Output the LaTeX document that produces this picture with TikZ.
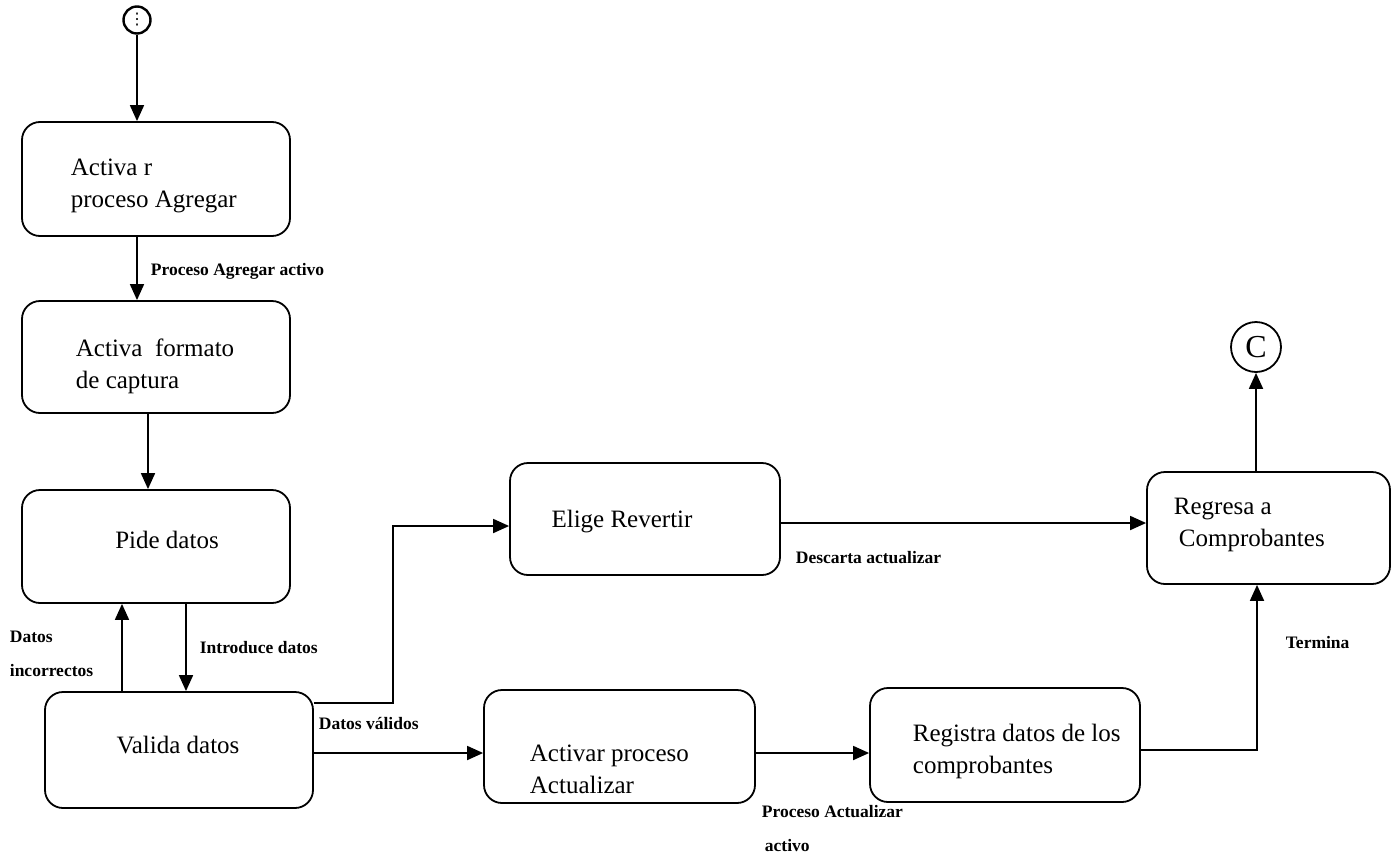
\documentclass[tikz,border=0pt]{standalone}
\usepackage{fontspec}
\setmainfont{Liberation Serif}
\newfontfamily\symfont{DejaVu Sans}
\usetikzlibrary{arrows.meta}
\begin{document}
\begin{tikzpicture}[x=1pt,y=-1pt,
  line width=1.8pt,
  statebox/.style={draw, rounded corners=18pt, minimum width=268pt, minimum height=112pt, inner sep=0pt},
  flow/.style={-{Triangle[length=16pt,width=14pt]}},
  boxtext/.style={font=\fontsize{25}{32}\selectfont, align=left, inner sep=0pt},
  flowlabel/.style={font=\fontsize{17.5}{34}\selectfont\bfseries, align=left, inner sep=0pt, anchor=west},
  terminal/.style={draw, circle, inner sep=0pt}]
\useasboundingbox (0,0) rectangle (1392,854);

% states
\node[statebox, minimum height=114pt] (agregar) at (156,179) {};
\node[statebox, minimum height=112pt] (formato) at (156,357) {};
\node[statebox, minimum height=113pt] (pide) at (156,546.5) {};
\node[statebox, minimum height=116pt] (valida) at (179,750) {};
\node[statebox, minimum width=270pt, minimum height=112pt] (revertir) at (645,519) {};
\node[statebox, minimum width=243pt, minimum height=112pt] (regresa) at (1268.5,528) {};
\node[statebox, minimum width=271pt, minimum height=113pt] (actualizar) at (619.5,746.5) {};
\node[statebox, minimum width=270pt, minimum height=114pt] (registra) at (1005,745) {};

% start and end markers
\node[terminal, line width=2.4pt, minimum size=27pt] (inicio) at (137,20) {\symfont\fontsize{16}{16}\selectfont ⋮};
\node[terminal, minimum size=50pt] (fin) at (1256,347) {\fontsize{32}{32}\selectfont C};

% state texts
\node[boxtext, anchor=west] at (70,186) {Activa r\\proceso Agregar};
\node[boxtext, anchor=west] at (75,366) {Activa\ \ formato\\de captura};
\node[boxtext] at (167,540) {Pide datos};
\node[boxtext] at (178,745) {Valida datos};
\node[boxtext] at (622,522) {Elige Revertir};
\node[boxtext, anchor=west] at (1173,525) {Regresa a\\\hspace*{5pt}Comprobantes};
\node[boxtext, anchor=west] at (529,769) {Activar proceso\\Actualizar};
\node[boxtext, anchor=west] at (912,751) {Registra datos de los\\comprobantes};

% connectors
\coordinate (v1) at (393,703);
\coordinate (v2) at (1257,750);
\draw[flow] (inicio.south) -- (agregar.north -| inicio.south);
\draw[flow] (agregar.south -| inicio.south) -- (formato.north -| inicio.south);
\draw[flow] (formato.south -| 148,0) -- (pide.north -| 148,0);
\draw[flow] (valida.north -| 122,0) -- (pide.south -| 122,0);
\draw[flow] (pide.south -| 186,0) -- (valida.north -| 186,0);
\draw[flow] (valida.east |- v1) -- (v1) |- (revertir.west |- 0,526);
\draw[flow] (valida.east |- 0,753) -- (actualizar.west |- 0,753);
\draw[flow] (revertir.east |- 0,523) -- (regresa.west |- 0,523);
\draw[flow] (regresa.north -| fin.south) -- (fin.south);
\draw[flow] (actualizar.east |- 0,753) -- (registra.west |- 0,753);
\draw[flow] (registra.east |- v2) -- (v2) -- (regresa.south -| v2);

% connector labels
\node[flowlabel] at (150,271) {Proceso Agregar activo};
\node[flowlabel] at (9,654) {Datos\\incorrectos};
\node[flowlabel] at (199,648) {Introduce datos};
\node[flowlabel] at (318,723) {Datos válidos};
\node[flowlabel] at (795,558) {Descarta actualizar};
\node[flowlabel] at (1285,643) {Termina};
\node[flowlabel] at (761,829) {Proceso Actualizar\\\hspace*{3pt}activo};
\end{tikzpicture}
\end{document}
